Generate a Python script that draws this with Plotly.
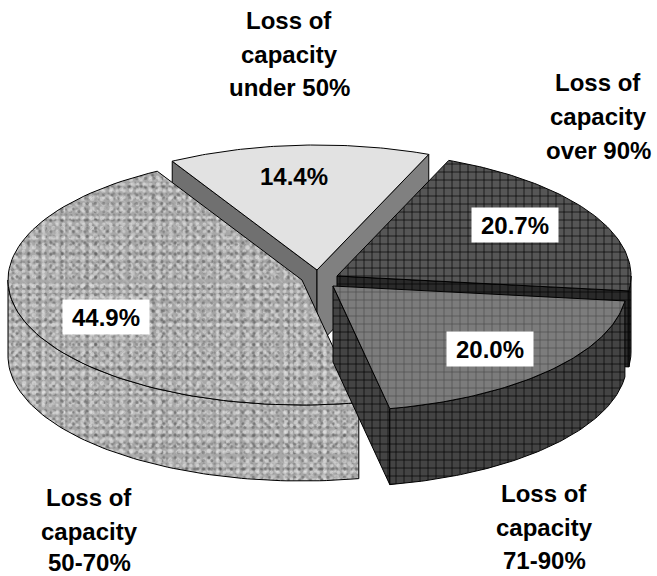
import numpy as np
import plotly.graph_objects as go

# data
categories = ["Loss of capacity under 50%", "Loss of capacity over 90%",
              "Loss of capacity 71-90%", "Loss of capacity 50-70%"]
values = [14.4, 20.7, 20.0, 44.9]

# drawing geometry (pixel space of the figure)
W, H = 657, 576
RX, RY, DEPTH = 294, 125, 76
START = 119.5
APEX = [(317, 270), (337, 276), (333, 286), (302, 280)]
OUTER = [
    (["Loss of", "capacity", "under 50%"], 289, [20, 54, 87]),
    (["Loss of", "capacity", "over 90%"], 598, [82, 116, 150]),
    (["Loss of", "capacity", "71-90%"], 544, [493, 527, 560]),
    (["Loss of", "capacity", "50-70%"], 89, [497, 531, 562]),
]
INNER = [(294, 176, False), (515, 225, True), (490, 349, True), (106, 317, True)]

ang = [START]
for v in values:
    ang.append(ang[-1] - v / sum(values) * 360)


def arc(c, a0, a1, dz=0, n=80):
    t = np.radians(np.linspace(a0, a1, n))
    return c[0] + RX * np.cos(t), c[1] - RY * np.sin(t) + dz


def top(i):
    x, y = arc(APEX[i], ang[i], ang[i + 1])
    return np.r_[APEX[i][0], x, APEX[i][0]], np.r_[APEX[i][1], y, APEX[i][1]]


def rim(i, a0, a1):
    x, y = arc(APEX[i], a0, a1)
    xb, yb = arc(APEX[i], a1, a0, DEPTH)
    return np.r_[x, xb, x[0]], np.r_[y, yb, y[0]]


def wall(i, a):
    x, y = arc(APEX[i], a, a, n=1)
    c = APEX[i]
    return (np.array([c[0], x[0], x[0], c[0], c[0]]),
            np.array([c[1], y[0], y[0] + DEPTH, c[1] + DEPTH, c[1]]))


fig = go.Figure()


def poly(xy, bg, fg=None, size=8, sol=0.16, line="black", width=1, fgop=1.0, shape="+"):
    x, y = xy
    kw = {}
    if fg is not None:
        kw["fillpattern"] = dict(shape=shape, bgcolor=bg or "rgba(0,0,0,0)", fgcolor=fg,
                                 size=size, solidity=sol, fgopacity=fgop)
    else:
        kw["fillcolor"] = bg
    fig.add_trace(go.Scatter(x=x, y=y, mode="lines", fill="toself",
                             line=dict(color=line, width=width),
                             hoverinfo="skip", showlegend=False, **kw))


MOTTLE = [(".", "#6a6a6a", 5.3, 0.20, 0.45), (".", "#e8e8e8", 6.7, 0.24, 0.55),
          (".", "#555555", 8.3, 0.12, 0.5), (".", "#f0f0f0", 9.7, 0.16, 0.5),
          ("/", "#888888", 7.3, 0.10, 0.30), ("\\", "#d8d8d8", 9.1, 0.12, 0.30),
          (".", "#4a4a4a", 11.3, 0.06, 0.55), (".", "#dddddd", 12.7, 0.10, 0.5)]


def mottled(xy):
    poly(xy, "#a8a8a8", width=0, line="rgba(0,0,0,0)")
    for shape, col, size, sol, op in MOTTLE:
        poly(xy, None, col, size=size, sol=sol, fgop=op, shape=shape, width=0, line="rgba(0,0,0,0)")
    x, y = xy
    fig.add_trace(go.Scatter(x=x, y=y, mode="lines", line=dict(color="black", width=1),
                             hoverinfo="skip", showlegend=False))


# under 50 %
poly(wall(0, ang[0]), "#707070")
poly(wall(0, ang[1]), "#808080")
poly(top(0), "#e2e2e2")
# over 90 %
poly(rim(1, 0, ang[2]), "#333333", "#000000")
poly(wall(1, ang[2]), "#2a2a2a", "#000000")
poly(top(1), "#565656", "#000000")
# 50-70 %
mottled(rim(3, -180, ang[3]))
mottled(top(3))
# 71-90 %
poly(wall(2, ang[3]), "#444444", "#000000")
poly(rim(2, ang[2], ang[3]), "#444444", "#000000")
poly(top(2), "#7c7c7c", "#4a4a4a")

annotations = []
for lines, cx, ys in OUTER:
    for s, y in zip(lines, ys):
        annotations.append(dict(x=cx, y=y, text=f"<b>{s}</b>", showarrow=False,
                                font=dict(family="Liberation Sans", size=24, color="black")))
for v, (cx, cy, box) in zip(values, INNER):
    annotations.append(dict(x=cx, y=cy, text=f"<b>{v:.1f}%</b>", showarrow=False, width=84, height=32,
                            bgcolor="white" if box else "rgba(0,0,0,0)",
                            font=dict(family="Liberation Sans", size=24, color="black")))

fig.update_layout(
    width=W, height=H, margin=dict(l=0, r=0, t=0, b=0),
    paper_bgcolor="white", plot_bgcolor="white", showlegend=False,
    xaxis=dict(range=[0, W], visible=False, fixedrange=True),
    yaxis=dict(range=[H, 0], visible=False, fixedrange=True),
    annotations=annotations,
)
fig.write_html("out.html", post_script="document.body.style.margin='0';",
               config={"displayModeBar": False})
